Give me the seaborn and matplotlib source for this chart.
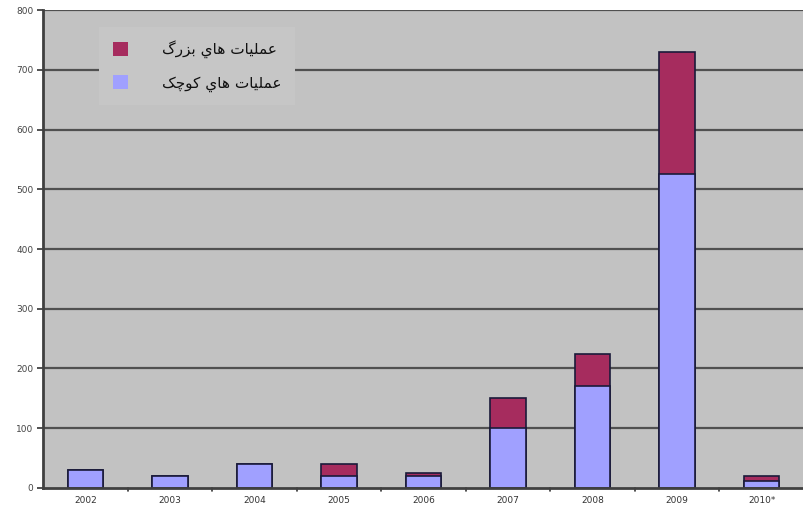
import matplotlib
matplotlib.use("Agg")
import matplotlib.pyplot as plt
import pandas as pd
import seaborn as sns
from matplotlib.patches import Patch

years = ["2002", "2003", "2004", "2005", "2006", "2007", "2008", "2009", "2010*"]
small_ops = [30, 20, 40, 20, 20, 100, 170, 525, 12]
big_ops = [0, 0, 0, 20, 5, 50, 55, 205, 8]
y_ticks = [0, 100, 200, 300, 400, 500, 600, 700, 800]


def rtl(chars):
    # pre-shaped Arabic presentation forms, reversed for left-to-right drawing
    return "".join(reversed(chars))


# عمليات هاي بزرگ / عمليات هاي كوچك (shaped by hand)
word_amaliyat = "\uFECB\uFEE4\uFEE0\uFEF4\uFE8E\uFE95"
word_hay = "\uFEEB\uFE8E\uFEF1"
label_big = rtl(word_amaliyat + " " + word_hay + " " + "\uFE91\uFEB0\uFEAD\uFB92")
label_small = rtl(word_amaliyat + " " + word_hay + " " + "\uFB90\uFEEE\uFB7C\uFB8F")

color_small = "#a0a0ff"
color_big = "#a62c5e"
edge = "#1a1a3a"

df = pd.DataFrame({"year": years, "small": small_ops, "big": big_ops})
df["total"] = df["small"] + df["big"]

sns.set_style("white")
plt.rcParams["font.family"] = ["DejaVu Sans"]

fig = plt.figure(figsize=(8.04, 5.13), dpi=100)
ax = fig.add_axes([0.0535, 0.049, 0.9465, 0.931])
ax.set_facecolor("#c2c2c2")

sns.barplot(data=df, x="year", y="total", color=color_big, width=0.42,
            saturation=1, edgecolor=edge, linewidth=1.2, ax=ax, zorder=3)
sns.barplot(data=df, x="year", y="small", color=color_small, width=0.42,
            saturation=1, edgecolor=edge, linewidth=1.2, ax=ax, zorder=4)

ax.set_ylim(0, 800)
ax.set_xlim(-0.5, len(years) - 0.5)
ax.set_yticks(y_ticks)
ax.set_yticklabels([str(v) for v in y_ticks], fontsize=6.5, color="#444444")
ax.set_xticks(range(len(years)))
ax.set_xticklabels(years, fontsize=6.5, color="#333333")
ax.set_xlabel("")
ax.set_ylabel("")

for v in y_ticks[1:]:
    ax.axhline(v, color="#505050", linewidth=1.6, zorder=1)

# small tick marks between categories
for b in range(1, len(years)):
    ax.plot([b - 0.5, b - 0.5], [0, -6], color="#333333", linewidth=1.2,
            clip_on=False, zorder=5)

ax.tick_params(axis="y", length=4, width=1.2, color="#333333", pad=3, left=True)
ax.tick_params(axis="x", length=0, pad=6)

for side in ["top", "right"]:
    ax.spines[side].set_visible(False)
ax.spines["left"].set_color("#404040")
ax.spines["left"].set_linewidth(2)
ax.spines["bottom"].set_color("#404040")
ax.spines["bottom"].set_linewidth(2)
ax.spines["bottom"].set_zorder(6)

handles = [Patch(facecolor=color_big, edgecolor="none"),
           Patch(facecolor=color_small, edgecolor="none")]
leg = ax.legend(handles, [label_big, label_small], loc="upper left",
                bbox_to_anchor=(0.068, 0.975), frameon=True,
                prop={"size": 11},
                handlelength=1.0, handleheight=1.0, handletextpad=2.2,
                labelspacing=1.1, borderpad=0.9, borderaxespad=0.3,
                fancybox=False)
leg.get_frame().set_facecolor("#c6c6c6")
leg.get_frame().set_edgecolor("none")
leg.get_frame().set_alpha(1)
leg.set_zorder(10)
for t in leg.get_texts():
    t.set_color("#111111")

fig.savefig("out.png", dpi=100, facecolor="white")
